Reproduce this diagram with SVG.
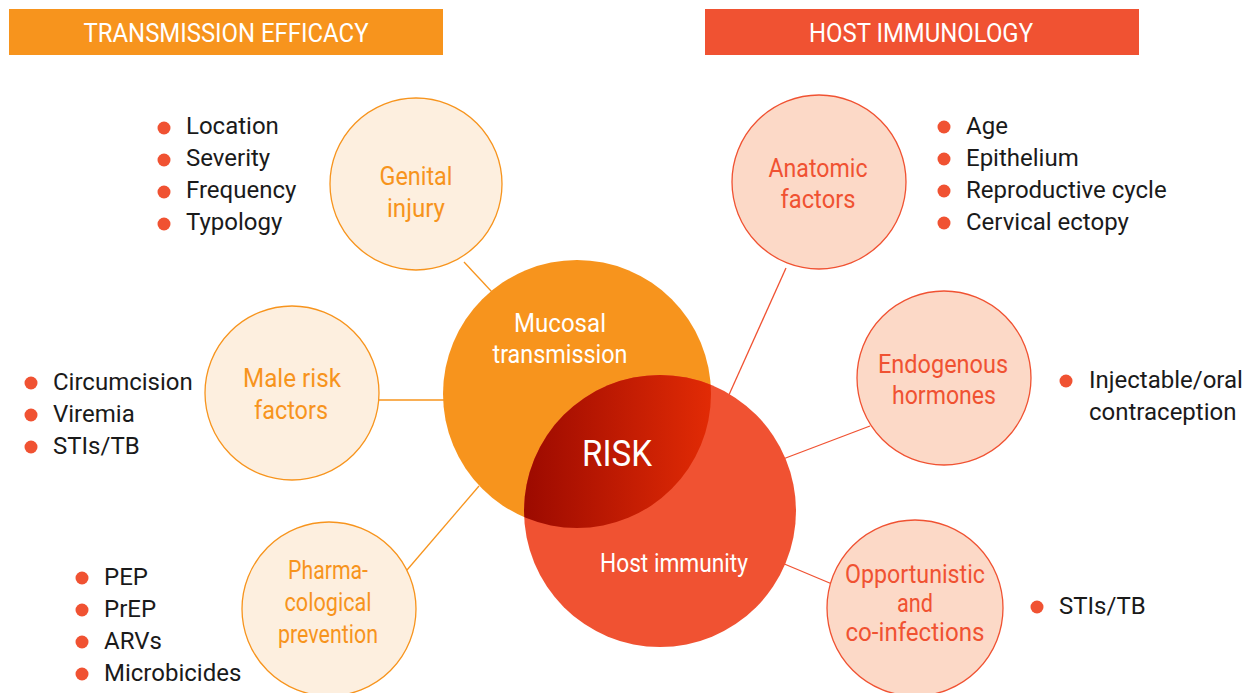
<svg xmlns="http://www.w3.org/2000/svg" width="1259" height="693" viewBox="0 0 1259 693">
<defs>
<style>
text{font-family:Roboto,"Liberation Sans",sans-serif}
.hdr{fill:#fff;font-size:26px;text-anchor:middle}
.lblO{fill:#f7941d;font-size:25px;text-anchor:middle}
.lblR{fill:#f05232;font-size:25px;text-anchor:middle}
.big{fill:#fff;font-size:25px;text-anchor:middle}
.bt{fill:#1a1a1a;font-size:24px}
.smO{fill:#fdefdf;stroke:#f7941d;stroke-width:1.3}
.smR{fill:#fcd9c7;stroke:#f05232;stroke-width:1.3}
.cO{stroke:#f7941d;stroke-width:1.3;fill:none}
.cR{stroke:#f05232;stroke-width:1.3;fill:none}
.dot{fill:#f05232}
</style>
<linearGradient id="lens" x1="524" y1="0" x2="712" y2="0" gradientUnits="userSpaceOnUse">
<stop offset="0" stop-color="#9c0a00"/>
<stop offset="1" stop-color="#e22b05"/>
</linearGradient>
<clipPath id="hostClip"><circle cx="660" cy="511" r="136"/></clipPath>
</defs>

<g id="header-left">
<rect x="9" y="9" width="434" height="46" fill="#f7941d"/>
<text class="hdr" x="226" y="42" textLength="285" lengthAdjust="spacingAndGlyphs">TRANSMISSION EFFICACY</text>
</g>
<g id="header-right">
<rect x="705" y="9" width="434" height="46" fill="#f05232"/>
<text class="hdr" x="921" y="42" textLength="224" lengthAdjust="spacingAndGlyphs">HOST IMMUNOLOGY</text>
</g>

<g id="connectors">
<line class="cO" x1="464" y1="262" x2="492" y2="292"/>
<line class="cO" x1="379" y1="400" x2="444" y2="400"/>
<line class="cO" x1="407" y1="570" x2="479" y2="486"/>
<line class="cR" x1="786" y1="268" x2="728" y2="397"/>
<line class="cR" x1="870" y1="426" x2="783" y2="459"/>
<line class="cR" x1="832" y1="584" x2="782" y2="563"/>
</g>

<g id="mucosal">
<circle cx="577" cy="394" r="134" fill="#f7941d"/>
<text class="big" x="560" y="332" textLength="92" lengthAdjust="spacingAndGlyphs">Mucosal</text>
<text class="big" x="560" y="363" textLength="135" lengthAdjust="spacingAndGlyphs">transmission</text>
</g>
<g id="host">
<circle cx="660" cy="511" r="136" fill="#f05232"/>
<text class="big" x="674" y="572" textLength="148" lengthAdjust="spacingAndGlyphs">Host immunity</text>
</g>
<g id="risk">
<circle cx="577" cy="394" r="134" fill="url(#lens)" clip-path="url(#hostClip)"/>
<text x="617" y="466" fill="#fff" font-size="37" text-anchor="middle" textLength="70" lengthAdjust="spacingAndGlyphs">RISK</text>
</g>

<g id="genital-injury">
<circle class="smO" cx="416" cy="184" r="86"/>
<text class="lblO" x="416" y="185" textLength="73" lengthAdjust="spacingAndGlyphs">Genital</text>
<text class="lblO" x="416" y="217" textLength="58" lengthAdjust="spacingAndGlyphs">injury</text>
</g>
<g id="male-risk">
<circle class="smO" cx="292" cy="393" r="87"/>
<text class="lblO" x="292" y="387" textLength="98" lengthAdjust="spacingAndGlyphs">Male risk</text>
<text class="lblO" x="291" y="419" textLength="74" lengthAdjust="spacingAndGlyphs">factors</text>
</g>
<g id="pharma">
<circle class="smO" cx="329" cy="609" r="87"/>
<text class="lblO" x="328" y="579" textLength="80" lengthAdjust="spacingAndGlyphs">Pharma-</text>
<text class="lblO" x="328" y="611" textLength="87" lengthAdjust="spacingAndGlyphs">cological</text>
<text class="lblO" x="328" y="643" textLength="100" lengthAdjust="spacingAndGlyphs">prevention</text>
</g>
<g id="anatomic">
<circle class="smR" cx="819" cy="182" r="87"/>
<text class="lblR" x="818" y="177" textLength="99" lengthAdjust="spacingAndGlyphs">Anatomic</text>
<text class="lblR" x="818" y="208" textLength="75" lengthAdjust="spacingAndGlyphs">factors</text>
</g>
<g id="endogenous">
<circle class="smR" cx="944" cy="378" r="87"/>
<text class="lblR" x="943" y="373" textLength="130" lengthAdjust="spacingAndGlyphs">Endogenous</text>
<text class="lblR" x="944" y="404" textLength="104" lengthAdjust="spacingAndGlyphs">hormones</text>
</g>
<g id="opportunistic">
<circle class="smR" cx="915" cy="608" r="88"/>
<text class="lblR" x="915" y="583" textLength="140" lengthAdjust="spacingAndGlyphs">Opportunistic</text>
<text class="lblR" x="915" y="612" textLength="36" lengthAdjust="spacingAndGlyphs">and</text>
<text class="lblR" x="915" y="641" textLength="139" lengthAdjust="spacingAndGlyphs">co-infections</text>
</g>

<g id="list-genital">
<circle class="dot" cx="164" cy="128" r="6.5"/><text class="bt" x="186" y="134">Location</text>
<circle class="dot" cx="164" cy="160" r="6.5"/><text class="bt" x="186" y="166">Severity</text>
<circle class="dot" cx="164" cy="192" r="6.5"/><text class="bt" x="186" y="198">Frequency</text>
<circle class="dot" cx="164" cy="224" r="6.5"/><text class="bt" x="186" y="230">Typology</text>
</g>
<g id="list-male">
<circle class="dot" cx="31" cy="383" r="6.5"/><text class="bt" x="53" y="390">Circumcision</text>
<circle class="dot" cx="31" cy="415" r="6.5"/><text class="bt" x="53" y="422">Viremia</text>
<circle class="dot" cx="31" cy="447" r="6.5"/><text class="bt" x="53" y="454">STIs/TB</text>
</g>
<g id="list-pharma">
<circle class="dot" cx="82" cy="578" r="6.5"/><text class="bt" x="104" y="585">PEP</text>
<circle class="dot" cx="82" cy="610" r="6.5"/><text class="bt" x="104" y="617">PrEP</text>
<circle class="dot" cx="82" cy="642" r="6.5"/><text class="bt" x="104" y="649">ARVs</text>
<circle class="dot" cx="82" cy="674" r="6.5"/><text class="bt" x="104" y="681">Microbicides</text>
</g>
<g id="list-anatomic">
<circle class="dot" cx="944" cy="127" r="6.5"/><text class="bt" x="966" y="134">Age</text>
<circle class="dot" cx="944" cy="159" r="6.5"/><text class="bt" x="966" y="166">Epithelium</text>
<circle class="dot" cx="944" cy="191" r="6.5"/><text class="bt" x="966" y="198">Reproductive cycle</text>
<circle class="dot" cx="944" cy="223" r="6.5"/><text class="bt" x="966" y="230">Cervical ectopy</text>
</g>
<g id="list-endogenous">
<circle class="dot" cx="1066" cy="381" r="6.5"/><text class="bt" x="1089" y="388">Injectable/oral</text>
<text class="bt" x="1089" y="420">contraception</text>
</g>
<g id="list-opportunistic">
<circle class="dot" cx="1037" cy="607" r="6.5"/><text class="bt" x="1059" y="614">STIs/TB</text>
</g>
</svg>
